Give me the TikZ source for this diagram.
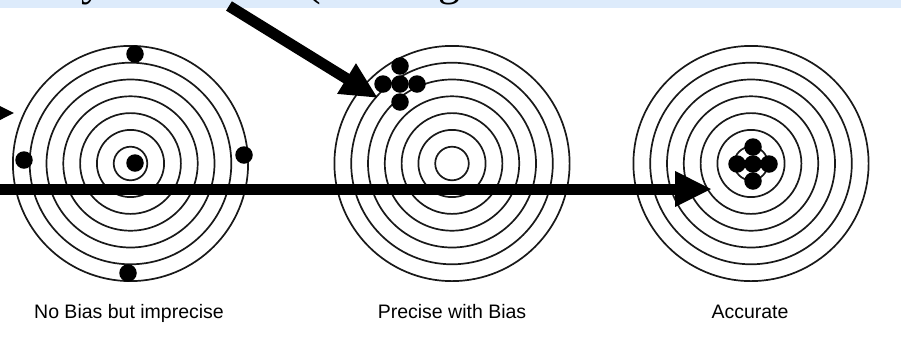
\documentclass[tikz,border=0pt]{standalone}
\usepackage{fontspec}
\setmainfont{Liberation Sans}
\newfontfamily\titleserif{Liberation Serif}
\usetikzlibrary{arrows.meta}
\definecolor{bandblue}{HTML}{DDEBFB}
\begin{document}
\begin{tikzpicture}[x=1pt,y=-1pt,
  ring/.style={draw=black!90, line width=1.7pt},
  hit/.style={circle, fill=black, inner sep=0pt, minimum size=17.5pt},
  bigarrow/.style={line width=11pt, -{Triangle[length=37pt,width=33pt]}},
  lbl/.style={font=\fontsize{19.5}{23}\selectfont, anchor=base, inner sep=0pt},
  frag/.style={font=\titleserif\fontsize{44}{50}\selectfont, anchor=base, inner sep=0pt}]
\useasboundingbox (0,0) rectangle (901,354);
\clip (0,0) rectangle (901,354);
\fill[white] (0,0) rectangle (901,354);
% title band (only the descenders of the cut-off title show)
\fill[bandblue] (0,0) rectangle (901,8);
\node[frag] (fy) at (92,-5) {y};
\node[frag] (fp) at (314,-5) {(};
\node[frag] (fg) at (449,-5) {g};
% targets
\foreach \cx/\nm in {130.5/A, 452/B, 751/C}{
  \coordinate (t\nm) at (\cx,163.5);
  \foreach \k in {1,...,7}{
    \draw[ring] (t\nm) circle[radius=16.8*\k];
  }
}
% hits: no bias but imprecise
\node[hit] (a1) at (135,54) {};
\node[hit] (a2) at (24,160) {};
\node[hit] (a3) at (244,155) {};
\node[hit] (a4) at (128,273) {};
\node[hit] (a5) at (135,163) {};
% hits: precise with bias
\node[hit] (b0) at (400,84) {};
\node[hit] (b1) at (400,66) {};
\node[hit] (b2) at (400,102) {};
\node[hit] (b3) at (383,84) {};
\node[hit] (b4) at (417,84) {};
% hits: accurate
\node[hit] (c0) at (753,164) {};
\node[hit] (c1) at (753,147) {};
\node[hit] (c2) at (753,181) {};
\node[hit] (c3) at (737,164) {};
\node[hit] (c4) at (769,164) {};
% labels
\node[lbl] (l1) at (129,318) {No Bias but imprecise};
\node[lbl] (l2) at (452,318) {Precise with Bias};
\node[lbl] (l3) at (750,318) {Accurate};
% arrows
\coordinate (h0) at (-5,189);
\coordinate (h1) at (712,189);
\coordinate (d0) at (229,6);
\coordinate (d1) at (378,98);
\coordinate (s0) at (-60,113);
\coordinate (s1) at (15,113);
\draw[bigarrow] (h0) -- (h1);
\draw[bigarrow] (d0) -- (d1);
\draw[bigarrow] (s0) -- (s1);
\end{tikzpicture}
\end{document}
